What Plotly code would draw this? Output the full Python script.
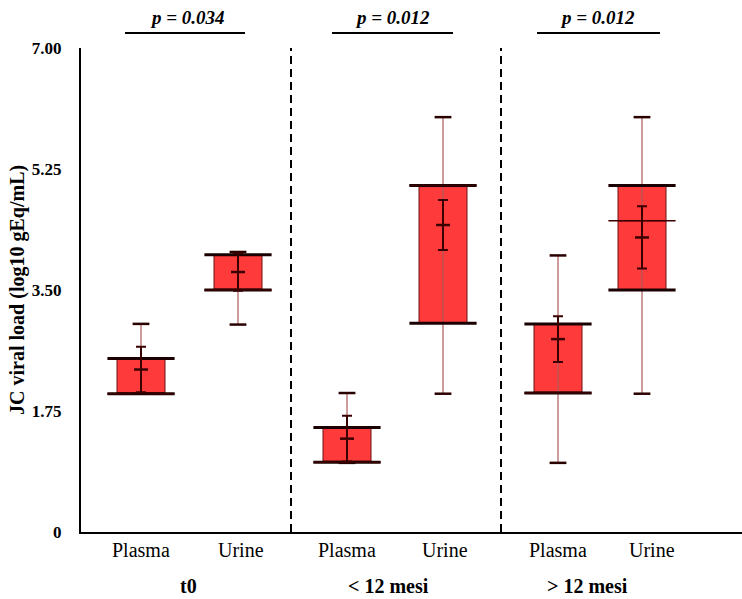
import plotly.graph_objects as go

# ---- data ----
groups = ["t0", "< 12 mesi", "> 12 mesi"]
samples = ["Plasma", "Urine", "Plasma", "Urine", "Plasma", "Urine"]
p_values = ["p = 0.034", "p = 0.012", "p = 0.012"]

vmin = [2.00, 3.00, 1.00, 2.00, 1.00, 2.00]
q1 = [2.00, 3.50, 1.01, 3.02, 2.01, 3.50]
median = [2.00, 3.50, 1.01, 5.01, 2.01, 4.50]
q3 = [2.51, 4.01, 1.51, 5.01, 3.01, 5.01]
vmax = [3.01, 4.05, 2.01, 6.00, 4.00, 6.00]
mean = [2.35, 3.76, 1.35, 4.44, 2.79, 4.26]
ci = [0.33, 0.27, 0.33, 0.36, 0.33, 0.45]

y_ticks = [0, 1.75, 3.50, 5.25, 7.00]
y_tick_text = ["0", "1.75", "3.50", "5.25", "7.00"]

# ---- layout positions (x axis in pixel-like units) ----
pos = [60, 157, 266, 362, 477, 561]
label_pos = [60, 160, 266, 364, 477, 571]
group_pos = [107, 307, 506]
bar_span = [(44, 164), (251, 372), (456, 579)]
p_pos = [106, 311, 516]
dividers = [210, 420]

FONT = "Liberation Serif, Times New Roman, serif"
BOX_W = 48

fig = go.Figure()

# boxes (no whiskers; drawn separately)
fig.add_trace(go.Box(
    x=pos, q1=q1, median=median, q3=q3, lowerfence=q1, upperfence=q3,
    width=BOX_W, fillcolor="rgb(255,58,58)",
    line=dict(color="#6a1212", width=1), boxpoints=False,
    hoverinfo="skip", showlegend=False,
))

# whisker lines through the box
fig.add_trace(go.Scatter(
    x=pos, y=vmin, mode="markers",
    marker=dict(size=1, color="rgba(0,0,0,0)"),
    error_y=dict(type="data", symmetric=False,
                 array=[a - b for a, b in zip(vmax, vmin)],
                 arrayminus=[0] * len(vmin),
                 color="rgb(170,90,90)", thickness=1.2, width=0),
    hoverinfo="skip", showlegend=False,
))

# thick top/bottom box edges
fig.add_trace(go.Scatter(
    x=pos + pos, y=q1 + q3, mode="markers",
    marker=dict(symbol="line-ew", size=BOX_W, line=dict(color="#1a0000", width=3)),
    hoverinfo="skip", showlegend=False,
))

# median lines
fig.add_trace(go.Scatter(
    x=pos, y=median, mode="markers",
    marker=dict(symbol="line-ew", size=BOX_W, line=dict(color="#3a0000", width=1.5)),
    hoverinfo="skip", showlegend=False,
))

# whisker caps
fig.add_trace(go.Scatter(
    x=pos + pos, y=vmin + vmax, mode="markers",
    marker=dict(symbol="line-ew", size=12, line=dict(color="#2a0000", width=2.5)),
    hoverinfo="skip", showlegend=False,
))

# mean +/- interval
fig.add_trace(go.Scatter(
    x=pos, y=mean, mode="markers",
    marker=dict(symbol="line-ew", size=10, line=dict(color="#3a0000", width=2.5)),
    error_y=dict(type="data", array=ci, color="#3a0000", thickness=2, width=5),
    hoverinfo="skip", showlegend=False,
))

shapes = []
for d in dividers:
    shapes.append(dict(type="line", xref="x", yref="paper", x0=d, x1=d, y0=0, y1=1,
                       line=dict(color="black", width=2, dash="8px,5px")))
for a, b in bar_span:
    shapes.append(dict(type="line", xref="x", yref="paper", x0=a, x1=b, y0=1.031, y1=1.031,
                       line=dict(color="black", width=2)))

annotations = []
for x, t in zip(p_pos, p_values):
    annotations.append(dict(x=x, y=1.064, xref="x", yref="paper", text=f"<b><i>{t}</i></b>",
                            xanchor="center", yanchor="middle",
                            showarrow=False, font=dict(family=FONT, size=19, color="black")))
for x, t in zip(label_pos, samples):
    annotations.append(dict(x=x, y=-0.038, xref="x", yref="paper", text=t,
                            xanchor="center", yanchor="middle",
                            showarrow=False, font=dict(family=FONT, size=20, color="black")))
for x, t in zip(group_pos, groups):
    annotations.append(dict(x=x, y=-0.112, xref="x", yref="paper", text=f"<b>{t}</b>",
                            xanchor="center", yanchor="middle",
                            showarrow=False, font=dict(family=FONT, size=20, color="black")))
annotations.append(dict(x=-0.097, y=0.5, xref="paper", yref="paper", textangle=-90,
                        xanchor="center", yanchor="middle",
                        text="<b>JC viral load (log10 gEq/mL)</b>", showarrow=False,
                        font=dict(family=FONT, size=20, color="black")))

fig.update_layout(
    width=742, height=599,
    margin=dict(l=81, r=0, t=48, b=67),
    plot_bgcolor="white", paper_bgcolor="white",
    shapes=shapes, annotations=annotations,
    showlegend=False,
    xaxis=dict(range=[0, 661], showline=True, linewidth=2, linecolor="black",
               showgrid=False, zeroline=False, showticklabels=False, ticks=""),
    yaxis=dict(range=[0, 7], tickvals=y_ticks, ticktext=y_tick_text,
               showline=True, linewidth=2, linecolor="black", showgrid=False,
               zeroline=False, ticks="", ticklabelstandoff=14,
               tickfont=dict(family=FONT, size=17, color="black", weight="bold")),
)

fig.write_html("out.html", config={"displayModeBar": False},
               post_script="document.body.style.margin='0';")
